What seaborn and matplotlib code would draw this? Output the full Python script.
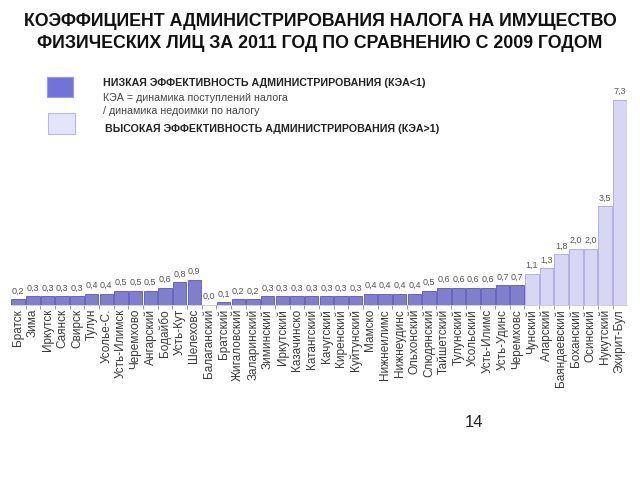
import matplotlib
matplotlib.use("Agg")
import matplotlib.pyplot as plt
import seaborn as sns
import pandas as pd
from matplotlib.patches import Rectangle

sns.set_theme(style="white")
plt.rcParams['font.family'] = ['Liberation Sans', 'DejaVu Sans']

labels = ["Братск", "Зима", "Иркутск", "Саянск", "Свирск", "Тулун", "Усолье-С.",
          "Усть-Илимск", "Черемхово", "Ангарский", "Бодайбо", "Усть-Кут", "Шелеховс",
          "Балаганский", "Братский", "Жигаловский", "Заларинский", "Зиминский",
          "Иркутский", "Казачинско", "Катангский", "Качугский", "Киренский",
          "Куйтунский", "Мамско", "Нижнеилимс", "Нижнеудинс", "Ольхонский",
          "Слюдянский", "Тайшетский", "Тулунский", "Усольский", "Усть-Илимс",
          "Усть-Удинс", "Черемховс", "Чунский", "Аларский", "Баяндаевский",
          "Боханский", "Осинский", "Нукутский", "Эхирит-Бул"]
values = [0.2, 0.3, 0.3, 0.3, 0.3, 0.4, 0.4, 0.5, 0.5, 0.5, 0.6, 0.8, 0.9,
          0.0, 0.1, 0.2, 0.2, 0.3, 0.3, 0.3, 0.3, 0.3, 0.3, 0.3, 0.4, 0.4, 0.4, 0.4,
          0.5, 0.6, 0.6, 0.6, 0.6, 0.7, 0.7,
          1.1, 1.3, 1.8, 2.0, 2.0, 3.5, 7.3]
title = ("КОЭФФИЦИЕНТ АДМИНИСТРИРОВАНИЯ НАЛОГА НА ИМУЩЕСТВО\n"
         "ФИЗИЧЕСКИХ ЛИЦ ЗА 2011 ГОД ПО СРАВНЕНИЮ С 2009 ГОДОМ")
legend_low = "НИЗКАЯ ЭФФЕКТИВНОСТЬ АДМИНИСТРИРОВАНИЯ (КЭА<1)"
legend_formula = "КЭА = динамика поступлений налога\n/ динамика недоимки по налогу"
legend_high = "ВЫСОКАЯ ЭФФЕКТИВНОСТЬ АДМИНИСТРИРОВАНИЯ (КЭА>1)"
page_number = "14"

low_color = "#7272da"
low_edge = "#5656bb"
high_color = "#d2d2f8"
high_edge = "#a6a6e0"

df = pd.DataFrame({"name": labels, "value": values})
df["group"] = ["high" if v > 1 else "low" for v in values]

fig = plt.figure(figsize=(6.4, 4.8), dpi=100)
ax = fig.add_axes([0.017, 0.365, 0.963, 0.445])
sns.barplot(data=df, x="name", y="value", hue="group", order=labels,
            palette={"low": low_color, "high": high_color}, dodge=False,
            legend=False, width=0.92, ax=ax)

for p in ax.patches:
    h = p.get_height()
    if h is None or pd.isna(h):
        continue
    p.set_edgecolor(high_edge if h > 1 else low_edge)
    p.set_linewidth(0.6)
    ax.text(p.get_x() + p.get_width() / 2, h + 0.13, f"{h:.1f}".replace(".", ","),
            ha="center", va="bottom", fontsize=6.5, color="#555555")

ax.set_xlim(-0.5, len(labels) - 0.5)
ax.set_ylim(0, 7.6)
ax.set_xlabel("")
ax.set_ylabel("")
ax.set_yticks([])
ax.set_xticks(range(len(labels)))
ax.set_xticklabels(labels, rotation=90, fontsize=8.5, color="#3a3a3a")
ax.set_xticks([i + 0.5 for i in range(len(labels) - 1)], minor=True)
ax.tick_params(axis="x", which="major", length=0, pad=3)
ax.tick_params(axis="x", which="minor", length=3, width=0.6, color="#888888", bottom=True)
for s in ["top", "right", "left"]:
    ax.spines[s].set_visible(False)
ax.spines["bottom"].set_color("#c8c8c8")
ax.spines["bottom"].set_linewidth(0.6)

fig.text(0.5, 0.972, title, ha="center", va="top", fontsize=12.8, fontweight="bold",
         color="#111111", linespacing=1.35)

fig.patches.append(Rectangle((0.074, 0.797), 0.04, 0.043, transform=fig.transFigure,
                             facecolor=low_color, edgecolor="#9a9ae6", linewidth=0.8))
fig.patches.append(Rectangle((0.075, 0.721), 0.042, 0.044, transform=fig.transFigure,
                             facecolor="#e4e4fb", edgecolor="#b8b8e8", linewidth=0.8))
fig.text(0.161, 0.827, legend_low, ha="left", va="center", fontsize=7.7,
         fontweight="bold", color="#222222")
fig.text(0.161, 0.806, legend_formula, ha="left", va="top", fontsize=7.7,
         color="#444444", linespacing=1.4)
fig.text(0.164, 0.731, legend_high, ha="left", va="center", fontsize=7.7,
         fontweight="bold", color="#222222")

fig.text(0.74, 0.12, page_number, ha="center", va="center", fontsize=12, color="#222222")

fig.savefig("out.png", dpi=100)
